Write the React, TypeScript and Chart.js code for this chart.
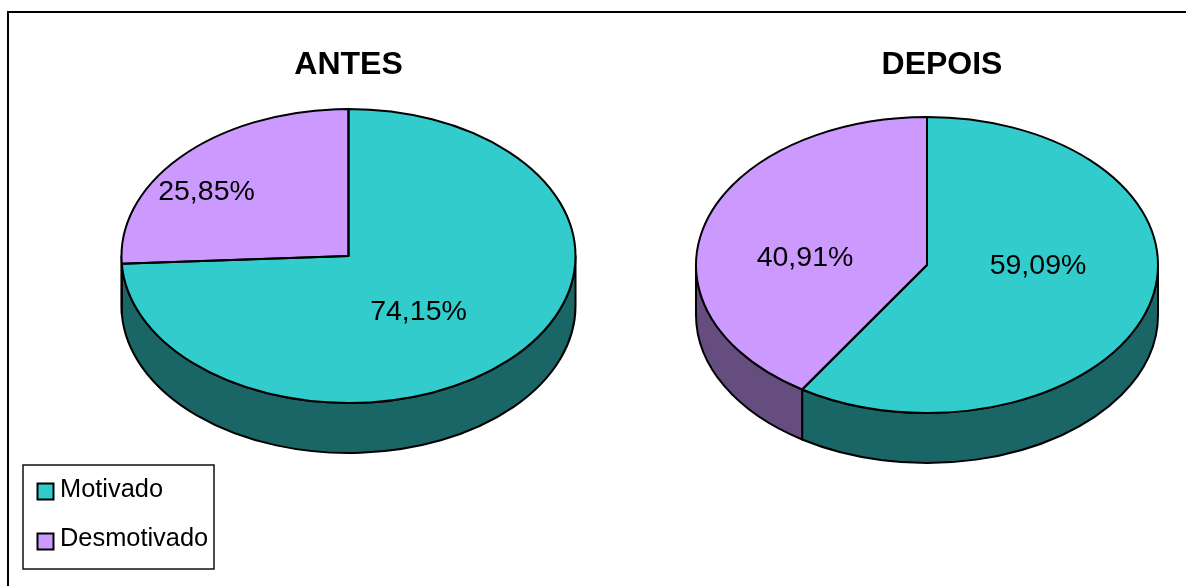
import React, { useEffect, useRef } from "react";
import { Chart, registerables } from "chart.js";

Chart.register(...registerables);

// Survey results, as percentages
const categories = ["Motivado", "Desmotivado"];
const antesValues = [74.15, 25.85];
const depoisValues = [59.09, 40.91];

const topColors = ["#33CCCC", "#CC99FF"];
const wallColors = ["#1A6666", "#664D80"];

const FONT = '"Liberation Sans", Arial, sans-serif';
const WIDTH = 1186;
const HEIGHT = 586;

type PieConfig = {
  title: string;
  values: number[];
  canvasLeft: number;
  canvasWidth: number;
  centerX: number;
  centerY: number;
  radiusX: number;
  radiusY: number;
  depth: number;
  labelOffsets: number[][];
  legend: boolean;
};

const antes: PieConfig = {
  title: "ANTES",
  values: antesValues,
  canvasLeft: 0,
  canvasWidth: 697,
  centerX: 348.5,
  centerY: 256,
  radiusX: 227,
  radiusY: 147,
  depth: 50,
  labelOffsets: [[70, 56.5], [-142, -63.5]],
  legend: true,
};

const depois: PieConfig = {
  title: "DEPOIS",
  values: depoisValues,
  canvasLeft: 690,
  canvasWidth: 504,
  centerX: 237,
  centerY: 265,
  radiusX: 231,
  radiusY: 148,
  depth: 50,
  labelOffsets: [[111, 1.5], [-122, -6.5]],
  legend: false,
};

const formatPercent = (v: number) => `${v.toFixed(2).replace(".", ",")}%`;

// Tilts a flat Chart.js pie into a disc: the wall is painted first, the arcs are
// filled under a vertical squash, then outlines and labels go on top at full weight.
const tiltedPie = (cfg: PieConfig) => ({
  id: "tiltedPie",
  beforeDatasetsDraw(chart: any) {
    const { ctx } = chart;
    const { centerX: cx, centerY: cy, radiusX: rx, radiusY: ry, depth } = cfg;
    const arcs = chart.getDatasetMeta(0).data;
    ctx.save();
    ctx.lineWidth = 2;
    ctx.lineJoin = "round";
    ctx.strokeStyle = "#000";
    arcs.forEach((arc: any, i: number) => {
      const lo = Math.max(arc.startAngle, 0);
      const hi = Math.min(arc.endAngle, Math.PI);
      if (hi <= lo) return;
      ctx.beginPath();
      ctx.ellipse(cx, cy, rx, ry, 0, lo, hi);
      ctx.ellipse(cx, cy + depth, rx, ry, 0, hi, lo, true);
      ctx.closePath();
      ctx.fillStyle = wallColors[i];
      ctx.fill();
      ctx.stroke();
    });
    ctx.restore();

    const first = arcs[0];
    ctx.save();
    ctx.translate(cx, cy);
    ctx.scale(rx / first.outerRadius, ry / first.outerRadius);
    ctx.translate(-first.x, -first.y);
  },
  afterDatasetsDraw(chart: any) {
    const { ctx } = chart;
    ctx.restore();
    const { centerX: cx, centerY: cy, radiusX: rx, radiusY: ry } = cfg;
    const arcs = chart.getDatasetMeta(0).data;
    ctx.save();
    ctx.lineWidth = 2;
    ctx.lineJoin = "round";
    ctx.strokeStyle = "#000";
    arcs.forEach((arc: any) => {
      ctx.beginPath();
      ctx.moveTo(cx, cy);
      ctx.ellipse(cx, cy, rx, ry, 0, arc.startAngle, arc.endAngle);
      ctx.closePath();
      ctx.stroke();
    });
    ctx.fillStyle = "#000";
    ctx.font = `28.5px ${FONT}`;
    ctx.textAlign = "center";
    ctx.textBaseline = "middle";
    cfg.values.forEach((v, i) => {
      const [dx, dy] = cfg.labelOffsets[i];
      ctx.fillText(formatPercent(v), cx + dx, cy + dy);
    });
    ctx.restore();
  },
  afterDraw(chart: any) {
    if (!cfg.legend) return;
    const { ctx } = chart;
    ctx.save();
    ctx.fillStyle = "#fff";
    ctx.strokeStyle = "#111";
    ctx.lineWidth = 1.5;
    ctx.fillRect(23, 465, 191, 104);
    ctx.strokeRect(23, 465, 191, 104);
    ctx.font = `25.4px ${FONT}`;
    ctx.textBaseline = "middle";
    ctx.textAlign = "left";
    chart.data.labels.forEach((label: string, i: number) => {
      const y = 483.5 + i * 50;
      ctx.fillStyle = topColors[i];
      ctx.fillRect(37.5, y, 16, 16);
      ctx.strokeStyle = "#000";
      ctx.lineWidth = 2;
      ctx.strokeRect(37.5, y, 16, 16);
      ctx.fillStyle = "#000";
      ctx.fillText(label, 60, y + 6 - i);
    });
    ctx.restore();
  },
});

function Pie({ cfg }: { cfg: PieConfig }) {
  const ref = useRef<HTMLCanvasElement>(null);
  useEffect(() => {
    const chart = new Chart(ref.current as HTMLCanvasElement, {
      type: "pie",
      data: {
        labels: categories,
        datasets: [
          {
            data: cfg.values,
            backgroundColor: topColors,
            borderWidth: 0,
            radius: cfg.radiusX,
            clip: false,
          } as any,
        ],
      },
      options: {
        responsive: false,
        animation: false,
        events: [],
        layout: { padding: 0 },
        plugins: {
          legend: { display: false },
          tooltip: { enabled: false },
          title: {
            display: true,
            text: cfg.title,
            color: "#000",
            font: { family: FONT, size: 32, weight: "bold" },
            padding: { top: 46, bottom: 0 },
          },
        },
      },
      plugins: [tiltedPie(cfg)],
    });
    return () => chart.destroy();
  }, [cfg]);
  return (
    <canvas
      ref={ref}
      width={cfg.canvasWidth}
      height={HEIGHT}
      style={{ position: "absolute", left: cfg.canvasLeft, top: 0, width: cfg.canvasWidth, height: HEIGHT }}
    />
  );
}

export default function App() {
  return (
    <div style={{ position: "fixed", left: 0, top: 0, width: WIDTH, height: HEIGHT, background: "#fff", overflow: "hidden" }}>
      <div
        style={{
          position: "absolute",
          left: 7,
          top: 11,
          width: WIDTH,
          height: HEIGHT,
          borderLeft: "2px solid #000",
          borderTop: "2px solid #000",
          boxSizing: "border-box",
        }}
      />
      <Pie cfg={antes} />
      <Pie cfg={depois} />
    </div>
  );
}
